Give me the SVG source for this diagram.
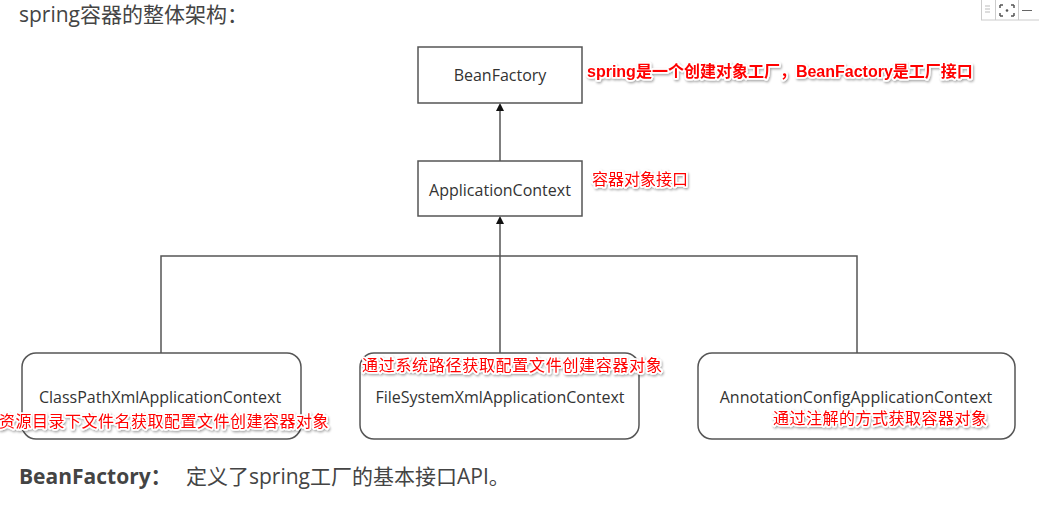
<svg xmlns="http://www.w3.org/2000/svg" width="1039" height="507" viewBox="0 0 1039 507">
<defs>
<style>
.box{fill:#fff;stroke:#555;stroke-width:1.5}
.lbl{font-family:"Open Sans","Noto Sans","Noto Sans CJK SC",sans-serif;font-size:16px;fill:#333;text-anchor:middle;dominant-baseline:central}
.note{font-family:"Liberation Sans","Noto Sans CJK SC",sans-serif;font-size:16px;fill:#f00;stroke:#fff;stroke-width:3.5;stroke-linejoin:round;paint-order:stroke;dominant-baseline:central;filter:url(#sh)}
.bold{font-weight:bold}
.line{fill:none;stroke:#555;stroke-width:1.5}
.head{fill:#111}
.page{font-family:"Open Sans","Noto Sans CJK SC",sans-serif;font-size:21px;fill:#444}
</style>
<filter id="sh" x="-10%" y="-50%" width="120%" height="200%">
<feDropShadow dx="1" dy="1.5" stdDeviation="1.2" flood-color="#000" flood-opacity="0.35"/>
</filter>
</defs>
<rect width="1039" height="507" fill="#fff"/>
<text class="page" x="19" y="22">spring容器的整体架构：</text>
<g id="toolbar" fill="none" stroke="#ccc" stroke-width="1">
<rect x="981.5" y="-1" width="58" height="21"/>
<line x1="995.5" y1="0" x2="995.5" y2="20"/>
<line x1="1018.5" y1="0" x2="1018.5" y2="20"/>
<path d="M985 6h5M985 9h5M985 12h5" stroke="#bbb"/>
<path d="M1000 5h3M1000 5v3M1014 5h-3M1014 5v3M1000 16h3M1000 16v-3M1014 16h-3M1014 16v-3" stroke="#555" stroke-width="1.5"/>
<circle cx="1007" cy="10.5" r="1.3" fill="#555" stroke="none"/>
<line x1="1022" y1="10.5" x2="1032" y2="10.5" stroke="#666"/>
</g>
<g id="connectors">
<line class="line" x1="500" y1="161" x2="500" y2="110"/>
<polygon class="head" points="500,103 496,111 504,111"/>
<line class="line" x1="500" y1="256" x2="500" y2="223"/>
<polygon class="head" points="500,216 496,224 504,224"/>
<polyline class="line" points="161,353 161,256 857,256 857,353"/>
<line class="line" x1="500" y1="256" x2="500" y2="353"/>
</g>
<g id="beanfactory">
<rect class="box" x="418" y="47" width="164" height="56"/>
<text class="lbl" x="500" y="75">BeanFactory</text>
</g>
<g id="applicationcontext">
<rect class="box" x="418" y="161" width="164" height="55"/>
<text class="lbl" x="500" y="190">ApplicationContext</text>
</g>
<g id="classpath">
<rect class="box" x="22" y="353" width="279" height="86" rx="14"/>
<text class="lbl" x="160" y="397">ClassPathXmlApplicationContext</text>
</g>
<g id="filesystem">
<rect class="box" x="360" y="353" width="279" height="86" rx="14"/>
<text class="lbl" x="500" y="397">FileSystemXmlApplicationContext</text>
</g>
<g id="annotation">
<rect class="box" x="698" y="353" width="317" height="86" rx="14"/>
<text class="lbl" x="856" y="397">AnnotationConfigApplicationContext</text>
</g>
<g id="notes">
<text class="note bold" x="587" y="71">spring是一个创建对象工厂，BeanFactory是工厂接口</text>
<text class="note" x="592" y="179">容器对象接口</text>
<text class="note" x="-1" y="421" letter-spacing="0.5">资源目录下文件名获取配置文件创建容器对象</text>
<text class="note" x="362" y="365" letter-spacing="0.7">通过系统路径获取配置文件创建容器对象</text>
<text class="note" x="773" y="418" letter-spacing="0.5">通过注解的方式获取容器对象</text>
</g>
<text class="page" x="19" y="484" font-size="23"><tspan font-weight="bold">BeanFactory：</tspan><tspan x="186">定义了spring工厂的基本接口API。</tspan></text>
</svg>
